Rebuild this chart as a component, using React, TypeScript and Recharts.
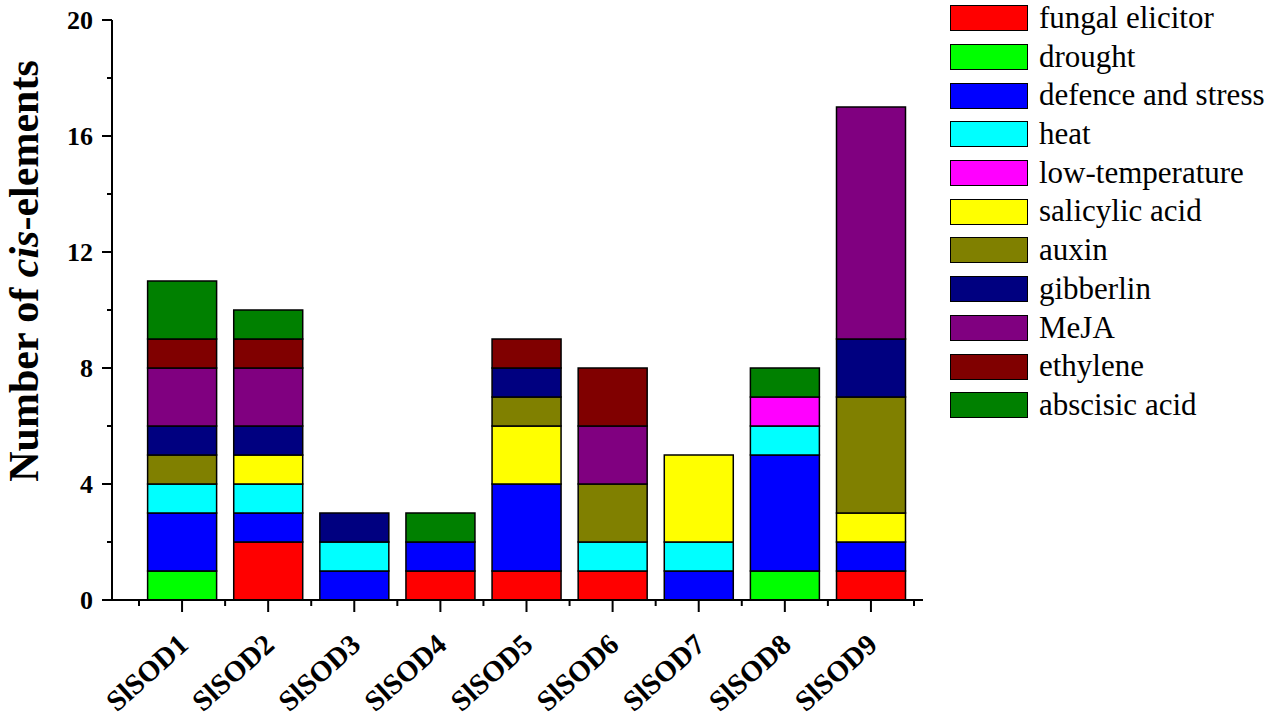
import React from 'react';
import { BarChart, Bar, XAxis, YAxis, Legend } from 'recharts';

const categories = ['SlSOD1', 'SlSOD2', 'SlSOD3', 'SlSOD4', 'SlSOD5', 'SlSOD6', 'SlSOD7', 'SlSOD8', 'SlSOD9'];

const fungalElicitor = [0, 2, 0, 1, 1, 1, 0, 0, 1];
const drought = [1, 0, 0, 0, 0, 0, 0, 1, 0];
const defenceAndStress = [2, 1, 1, 1, 3, 0, 1, 4, 1];
const heat = [1, 1, 1, 0, 0, 1, 1, 1, 0];
const lowTemperature = [0, 0, 0, 0, 0, 0, 0, 1, 0];
const salicylicAcid = [0, 1, 0, 0, 2, 0, 3, 0, 1];
const auxin = [1, 0, 0, 0, 1, 2, 0, 0, 4];
const gibberlin = [1, 1, 1, 0, 1, 0, 0, 0, 2];
const meja = [2, 2, 0, 0, 0, 2, 0, 0, 8];
const ethylene = [1, 1, 0, 0, 1, 2, 0, 0, 0];
const abscisicAcid = [2, 1, 0, 1, 0, 0, 0, 1, 0];

const seriesNames = [
  'fungal elicitor', 'drought', 'defence and stress', 'heat', 'low-temperature',
  'salicylic acid', 'auxin', 'gibberlin', 'MeJA', 'ethylene', 'abscisic acid',
];
const seriesValues = [
  fungalElicitor, drought, defenceAndStress, heat, lowTemperature,
  salicylicAcid, auxin, gibberlin, meja, ethylene, abscisicAcid,
];
const seriesColors = [
  '#FF0000', '#00FF00', '#0000FF', '#00FFFF', '#FF00FF',
  '#FFFF00', '#808000', '#000080', '#800080', '#800000', '#008000',
];

const yTicks = [0, 2, 4, 6, 8, 10, 12, 14, 16, 18, 20];
const yMajorTicks = [0, 4, 8, 12, 16, 20];

const data = categories.map((c, i) => {
  const row: Record<string, any> = { name: c };
  seriesNames.forEach((s, k) => {
    row[s] = seriesValues[k][i];
  });
  return row;
});

const FONT = '"Liberation Serif", "Times New Roman", serif';
const W = 1267;
const H = 721;
const M = { top: 20, right: 344, bottom: 0, left: 0 };
const Y_AXIS_W = 112;
const X_AXIS_H = 121;
const PAD_L = 27;
const PAD_R = 9;
const PLOT_W = W - M.left - M.right - Y_AXIS_W;
const BAND = (PLOT_W - PAD_L - PAD_R) / categories.length;

const YTick = (props: any) => {
  const { x, y, payload } = props;
  const major = yMajorTicks.includes(payload.value);
  return (
    <g>
      <line x1={x} x2={x - (major ? 10 : 5)} y1={y} y2={y} stroke="#000" strokeWidth={2} />
      {major && (
        <text x={x - 19} y={y} textAnchor="end" dominantBaseline="central" fontFamily={FONT}
          fontWeight="bold" fontSize={26} fill="#000">
          {payload.value}
        </text>
      )}
    </g>
  );
};

const XTick = (props: any) => {
  const { x, y, payload, index } = props;
  const half = BAND / 2;
  const last = index === categories.length - 1;
  const tx = x + 8;
  const ty = y + 47;
  return (
    <g>
      <line x1={x} x2={x} y1={y} y2={y + 12} stroke="#000" strokeWidth={2} />
      <line x1={x - half} x2={x - half} y1={y} y2={y + 6} stroke="#000" strokeWidth={2} />
      {last && <line x1={x + half} x2={x + half} y1={y} y2={y + 6} stroke="#000" strokeWidth={2} />}
      <text x={tx} y={ty} textAnchor="end" transform={`rotate(-42 ${tx} ${ty})`}
        fontFamily={FONT} fontWeight="bold" fontSize={29} fill="#000">
        {payload.value}
      </text>
    </g>
  );
};

const YLabel = (props: any) => {
  const vb = props.viewBox || { x: 0, y: 20, width: 112, height: 580 };
  const tx = vb.x + 38;
  const ty = vb.y + vb.height / 2 - 39;
  return (
    <text x={tx} y={ty} textAnchor="middle" transform={`rotate(-90 ${tx} ${ty})`}
      fontFamily={FONT} fontWeight="bold" fontSize={42} fill="#000">
      Number of <tspan fontStyle="italic">cis</tspan>-elements
    </text>
  );
};

const LegendContent = () => (
  <div style={{ fontFamily: FONT, fontSize: 31, color: '#000' }}>
    {seriesNames.map((n, i) => (
      <div key={n} style={{ display: 'flex', alignItems: 'center', height: 38.7, whiteSpace: 'nowrap' }}>
        <div style={{
          width: 76, height: 24, background: seriesColors[i], border: '1.5px solid #000',
          marginRight: 11, flex: 'none',
        }} />
        <span style={{ lineHeight: '38.7px', position: 'relative', top: 0 }}>{n}</span>
      </div>
    ))}
  </div>
);

export default function App() {
  return (
    <div style={{ position: 'absolute', left: 0, top: 0, width: W, height: H, background: '#fff' }}>
      <BarChart width={W} height={H} data={data} margin={M} barCategoryGap="10%">
        <XAxis dataKey="name" type="category" height={X_AXIS_H} padding={{ left: PAD_L, right: PAD_R }}
          axisLine={{ stroke: '#000', strokeWidth: 2 }} tickLine={false} tickSize={0} tickMargin={0}
          tick={<XTick />} interval={0} />
        <YAxis type="number" domain={[0, 20]} ticks={yTicks} width={Y_AXIS_W} interval={0}
          axisLine={{ stroke: '#000', strokeWidth: 2 }} tickLine={false} tickSize={0} tickMargin={0}
          tick={<YTick />} label={{ content: <YLabel /> }} />
        <Legend layout="vertical" align="center" verticalAlign="middle" content={<LegendContent />}
          wrapperStyle={{ left: 950, top: -1, width: 317, height: 'auto' }} />
        {seriesNames.map((n, i) => (
          <Bar key={n} dataKey={n} stackId="a" fill={seriesColors[i]} stroke="#000" strokeWidth={1.5}
            isAnimationActive={false} />
        ))}
      </BarChart>
    </div>
  );
}
